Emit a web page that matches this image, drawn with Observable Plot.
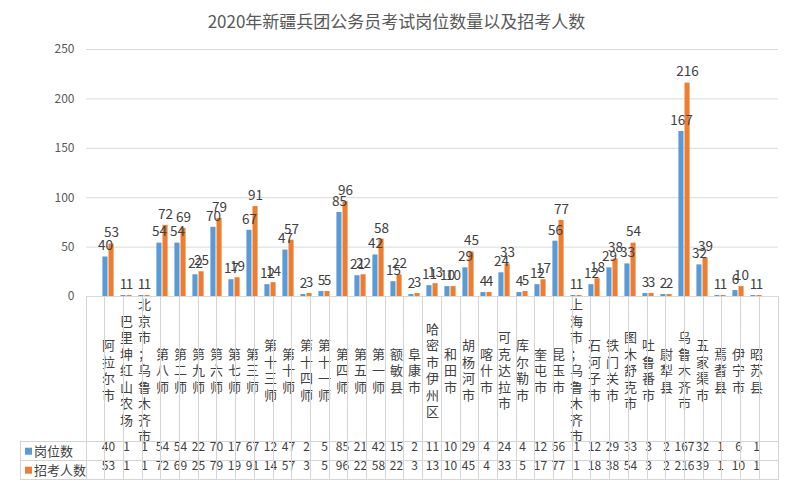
<!DOCTYPE html>
<html><head><meta charset="utf-8">
<script src="https://cdn.jsdelivr.net/npm/d3@7"></script>
<script src="https://cdn.jsdelivr.net/npm/@observablehq/plot@0.6"></script>
<style>
body{margin:0;background:#fff;}
#wrap{position:relative;width:793px;height:483px;font-family:"Noto Sans CJK SC","Noto Sans",sans-serif;}
#title{position:absolute;top:9px;left:0;width:793px;text-align:center;font-size:17px;color:#595959;line-height:24px;}
#wrap svg{position:absolute;left:0;top:0;}
g[aria-label="table-row"] text{letter-spacing:-0.5px;}
g[aria-label="bar-label"] text{letter-spacing:-0.4px;}
</style></head>
<body><div id="wrap"><div id="title">2020年新疆兵团公务员考试岗位数量以及招考人数</div></div>
<script>
const categories = ["阿拉尔市","巴里坤红山农场","北京市；乌鲁木齐市","第八师","第二师","第九师","第六师","第七师","第三师","第十三师","第十师","第十四师","第十一师","第四师","第五师","第一师","额敏县","阜康市","哈密市伊州区","和田市","胡杨河市","喀什市","可克达拉市","库尔勒市","奎屯市","昆玉市","上海市；乌鲁木齐市","石河子市","铁门关市","图木舒克市","吐鲁番市","尉犁县","乌鲁木齐市","五家渠市","焉耆县","伊宁市","昭苏县"];
const posts = [40,1,1,54,54,22,70,17,67,12,47,2,5,85,21,42,15,2,11,10,29,4,24,4,12,56,1,12,29,33,3,2,167,32,1,6,1];
const applicants = [53,1,1,72,69,25,79,19,91,14,57,3,5,96,22,58,22,3,13,10,45,4,33,5,17,77,1,18,38,54,3,2,216,39,1,10,1];
const seriesNames = ["岗位数","招考人数"];
const colors = ["#5b9bd5","#ed7d31"];
const yTicks = [0,50,100,150,200,250];

const W = 793, H = 483, ML = 86, MR = 15, MT = 49, MB = 187;
const step = (W - ML - MR) / categories.length;
const barW = 5.8, gap = 0.3;
const sideInset = (step - 2*barW - gap) / 2;
const data = categories.map((c,i)=>({cat:c, posts:posts[i], applicants:applicants[i]}));
const off = step/2 - sideInset - barW/2; // bar centre offset from band centre
const labelColor = "#404040";
const font = "'Noto Sans CJK SC','Noto Sans',sans-serif";

const labelTop = 145.7, rowH = 19;

const plot = Plot.plot({
  width: W, height: H,
  marginLeft: ML, marginRight: MR, marginTop: MT, marginBottom: MB,
  style: {fontFamily: font, fontSize: "12px", color: "#595959", background: "transparent"},
  x: {domain: categories, padding: 0, axis: null},
  y: {domain: [0,250], axis: null},
  marks: [
    Plot.gridY(yTicks, {stroke: "#d9d9d9", strokeOpacity: 1}),
    Plot.axisY(yTicks, {tickSize: 0, tickPadding: 12, fontSize: 12, fill: "#595959"}),
    Plot.barY(data, {x: "cat", y: "posts", fill: colors[0], insetLeft: sideInset, insetRight: step - sideInset - barW}),
    Plot.barY(data, {x: "cat", y: "applicants", fill: colors[1], insetLeft: sideInset + barW + gap, insetRight: sideInset}),
    Plot.text(data, {x: "cat", y: "posts", text: d => String(d.posts), dx: -off, dy: -11, fontSize: 13.5, fill: labelColor, ariaLabel: "bar-label"}),
    Plot.text(data, {x: "cat", y: "applicants", text: d => String(d.applicants), dx: off, dy: -11, fontSize: 13.5, fill: labelColor, ariaLabel: "bar-label"}),
    Plot.text(categories, {x: d => d, text: d => [...d].join("\n"), frameAnchor: "bottom", lineAnchor: "middle", lineHeight: 1.27, dy: labelTop/2 + 0.5, fontSize: 13, fill: labelColor}),
    Plot.text(data, {x: "cat", text: d => String(d.posts), frameAnchor: "bottom", dy: labelTop + rowH/2 - 0.5, fontSize: 12, fill: labelColor, ariaLabel: "table-row"}),
    Plot.text(data, {x: "cat", text: d => String(d.applicants), frameAnchor: "bottom", dy: labelTop + rowH*1.5 - 0.5, fontSize: 12, fill: labelColor, ariaLabel: "table-row"})
  ]
});

document.getElementById("wrap").appendChild(plot);

// data-table borders and legend keys, positioned from the plot's own scales
const ys = plot.scale("y");
const y0 = ys.apply(0);
const xLeft = ML, xRight = W - MR;
const ns = "http://www.w3.org/2000/svg";
function addLine(x1, y1, x2, y2) {
  const l = document.createElementNS(ns, "line");
  l.setAttribute("x1", x1); l.setAttribute("y1", y1);
  l.setAttribute("x2", x2); l.setAttribute("y2", y2);
  l.setAttribute("stroke", "#d4d4d4"); l.setAttribute("stroke-width", "1");
  l.setAttribute("shape-rendering", "crispEdges");
  plot.appendChild(l);
}
const edges = categories.map((c, i) => xLeft + i * step).concat([xRight]);
edges.forEach(e => addLine(e, y0, e, y0 + labelTop + 2*rowH));
const tableLeft = 20;
[labelTop, labelTop + rowH, labelTop + 2*rowH].forEach(o => addLine(tableLeft, y0 + o, xRight, y0 + o));
addLine(tableLeft, y0 + labelTop, tableLeft, y0 + labelTop + 2*rowH);

seriesNames.forEach((n, i) => {
  const cy = y0 + labelTop + rowH*(i + 0.5);
  const r = document.createElementNS(ns, "rect");
  r.setAttribute("x", 25); r.setAttribute("y", cy - 3.5); r.setAttribute("width", 7); r.setAttribute("height", 7);
  r.setAttribute("fill", colors[i]);
  plot.appendChild(r);
  const t = document.createElementNS(ns, "text");
  t.setAttribute("x", 34); t.setAttribute("y", cy); t.setAttribute("dy", "0.35em");
  t.setAttribute("text-anchor", "start"); t.setAttribute("font-size", "13");
  t.setAttribute("fill", labelColor); t.setAttribute("font-family", font);
  t.textContent = n;
  plot.appendChild(t);
});
</script>
</body></html>
